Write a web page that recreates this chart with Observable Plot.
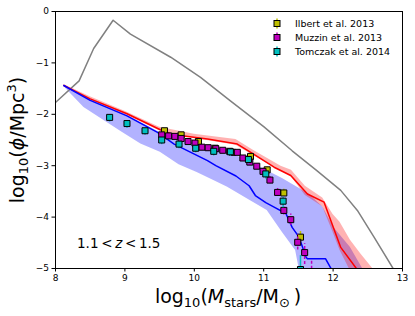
<!DOCTYPE html>
<html><head><meta charset="utf-8">
<script src="https://cdn.jsdelivr.net/npm/d3@7"></script>
<script src="https://cdn.jsdelivr.net/npm/@observablehq/plot@0.6"></script>
<style>
body{margin:0;background:#fff}
svg{font-family:"DejaVu Sans",sans-serif}
</style>
</head><body><div id="chart"></div>
<script>
// ---- data ----
const xTicks = [8, 9, 10, 11, 12, 13];
const yTicks = [-5, -4, -3, -2, -1, 0];

const grayX = [8.0, 8.34, 8.55, 8.83, 9.08, 9.66, 10.09, 10.52, 11.0, 11.41, 11.77, 12.11, 12.35, 12.59, 12.86, 12.9];
const grayY = [-1.77, -1.35, -0.72, -0.17, -0.44, -0.89, -1.28, -1.74, -2.24, -2.71, -3.10, -3.48, -3.87, -4.39, -4.99, -5.1];

const redX = [8.12, 8.5, 9.03, 9.51, 9.71, 10.19, 10.62, 10.86, 11.15, 11.39, 11.63, 11.87, 12.11, 12.33, 12.4];
const redY = [-1.44, -1.70, -1.99, -2.30, -2.40, -2.48, -2.58, -2.78, -3.03, -3.19, -3.55, -3.71, -4.59, -4.99, -5.15];

const redBandX  = [8.12, 8.5, 9.0, 9.5, 10.0, 10.6, 10.85, 11.25, 11.4, 11.6, 11.85, 12.0, 12.1, 12.25, 12.4, 12.57, 12.65];
const redBandLo = [-1.45, -1.71, -2.00, -2.32, -2.47, -2.60, -2.80, -3.11, -3.22, -3.58, -3.80, -4.30, -4.65, -5.05, -5.3, -5.5, -5.6];
const redBandHi = [-1.42, -1.66, -1.94, -2.25, -2.39, -2.49, -2.70, -3.01, -3.09, -3.40, -3.63, -3.95, -4.10, -4.45, -4.72, -5.0, -5.15];

const blueX = [8.12, 8.5, 9.03, 9.47, 9.71, 10.19, 10.31, 10.6, 10.79, 10.88, 11.03, 11.17, 11.32, 11.41, 11.51, 11.61, 11.63, 11.89, 11.97, 12.0];
const blueY = [-1.44, -1.73, -2.03, -2.35, -2.58, -2.90, -3.0, -3.2, -3.39, -3.58, -3.72, -3.82, -3.93, -4.2, -4.39, -4.78, -4.81, -4.81, -5.0, -5.1];

const blueBandX  = [8.12, 8.41, 8.96, 9.23, 9.51, 9.78, 10.04, 10.28, 10.48, 10.81, 11.05, 11.27, 11.46, 11.51, 11.65, 11.85, 12.01, 12.25, 12.42, 12.5];
const blueBandLo = [-1.46, -1.87, -2.35, -2.58, -2.74, -2.98, -3.13, -3.29, -3.42, -3.68, -3.87, -4.30, -4.65, -5.0, -5.5, -5.5, -5.5, -5.5, -5.5, -5.5];
const blueBandHi = [-1.43, -1.66, -1.97, -2.16, -2.36, -2.50, -2.58, -2.66, -2.74, -2.92, -3.10, -3.25, -3.40, -3.44, -3.55, -3.80, -4.20, -4.59, -4.99, -5.2];

const ilbertX  = [9.57, 9.81, 10.06, 10.30, 10.55, 10.81, 11.05, 11.29, 11.53];
const ilbertY  = [-2.32, -2.40, -2.53, -2.66, -2.74, -2.82, -3.08, -3.53, -4.39];
const ilbertLo = [-2.36, -2.44, -2.57, -2.70, -2.78, -2.86, -3.13, -3.60, -4.50];
const ilbertHi = [-2.28, -2.36, -2.49, -2.62, -2.70, -2.78, -3.03, -3.46, -4.28];

const muzzinX  = [9.53, 9.63, 9.72, 9.81, 9.91, 10.01, 10.11, 10.20, 10.31, 10.41, 10.51, 10.62, 10.70, 10.80, 10.90, 10.99, 11.09, 11.20, 11.29, 11.39, 11.49, 11.59, 11.69];
const muzzinY  = [-2.40, -2.42, -2.43, -2.47, -2.53, -2.56, -2.64, -2.65, -2.67, -2.70, -2.72, -2.74, -2.85, -2.93, -3.01, -3.11, -3.28, -3.52, -3.87, -4.05, -4.49, -4.69, -5.3];
const muzzinLo = [-2.44, -2.46, -2.47, -2.51, -2.57, -2.60, -2.68, -2.69, -2.71, -2.74, -2.76, -2.78, -2.90, -2.98, -3.06, -3.17, -3.35, -3.60, -3.96, -4.16, -4.64, -4.92, -5.6];
const muzzinHi = [-2.36, -2.38, -2.39, -2.43, -2.49, -2.52, -2.60, -2.61, -2.63, -2.66, -2.68, -2.70, -2.80, -2.88, -2.96, -3.05, -3.21, -3.44, -3.78, -3.94, -4.34, -4.52, -4.85];

const tomczakX  = [8.78, 9.03, 9.29, 9.53, 9.78, 10.02, 10.28, 10.52, 10.78, 11.03, 11.28, 11.53];
const tomczakY  = [-2.06, -2.18, -2.32, -2.50, -2.58, -2.66, -2.72, -2.73, -2.88, -3.16, -3.69, -5.02];
const tomczakLo = [-2.15, -2.27, -2.41, -2.59, -2.67, -2.75, -2.81, -2.82, -2.97, -3.26, -3.82, -5.4];
const tomczakHi = [-2.02, -2.14, -2.28, -2.46, -2.54, -2.62, -2.68, -2.69, -2.84, -3.11, -3.62, -4.75];

const seriesNames = ["Ilbert et al. 2013", "Muzzin et al. 2013", "Tomczak et al. 2014"];
const seriesColors = ["#bfbf00", "#bf00bf", "#00bfbf"];

// ---- tables ----
const pts = (xs, ys) => xs.map((x, i) => ({x, y: ys[i]}));
const band = (xs, lo, hi) => xs.map((x, i) => ({x, lo: lo[i], hi: hi[i]}));
const obs = (xs, ys, lo, hi) => xs.map((x, i) => ({x, y: ys[i], lo: lo[i], hi: hi[i]}));

const gray = pts(grayX, grayY);
const red = pts(redX, redY);
const blue = pts(blueX, blueY);
const redBand = band(redBandX, redBandLo, redBandHi);
const blueBand = band(blueBandX, blueBandLo, blueBandHi);
const ilbert = obs(ilbertX, ilbertY, ilbertLo, ilbertHi);
const muzzin = obs(muzzinX, muzzinY, muzzinLo, muzzinHi);
const tomczak = obs(tomczakX, tomczakY, tomczakLo, tomczakHi);

const fmt = d3.format("d");

const plot = Plot.plot({
  width: 415, height: 316,
  marginLeft: 55, marginRight: 13, marginTop: 11, marginBottom: 48,
  style: {fontFamily: "DejaVu Sans", fontSize: "9px", background: "#fff", color: "#000"},
  x: {domain: [8, 13]},
  y: {domain: [-5, 0]},
  marks: [
    Plot.areaY(blueBand, {x: "x", y1: "lo", y2: "hi", fill: "#0000ff", fillOpacity: 0.3, clip: true}),
    Plot.areaY(redBand, {x: "x", y1: "lo", y2: "hi", fill: "#ff0000", fillOpacity: 0.3, clip: true}),
    Plot.line(gray, {x: "x", y: "y", stroke: "#808080", strokeWidth: 1.5, clip: true}),
    Plot.line(red, {x: "x", y: "y", stroke: "#ff0000", strokeWidth: 1.5, clip: true}),
    Plot.line(blue, {x: "x", y: "y", stroke: "#0000ff", strokeWidth: 1.5, clip: true}),
    Plot.ruleX(ilbert, {x: "x", y1: "lo", y2: "hi", stroke: seriesColors[0], strokeWidth: 1.5, clip: true}),
    Plot.dot(ilbert, {x: "x", y: "y", symbol: "square", r: 3.4, fill: seriesColors[0], stroke: "#000", strokeWidth: 1, clip: true}),
    Plot.ruleX(muzzin, {x: "x", y1: "lo", y2: "hi", stroke: seriesColors[1], strokeWidth: 1.5, strokeDasharray: "3,2", clip: true}),
    Plot.dot(muzzin, {x: "x", y: "y", symbol: "square", r: 3.4, fill: seriesColors[1], stroke: "#000", strokeWidth: 1, clip: true}),
    Plot.ruleX(tomczak, {x: "x", y1: "lo", y2: "hi", stroke: seriesColors[2], strokeWidth: 1.5, clip: true}),
    Plot.dot(tomczak, {x: "x", y: "y", symbol: "square", r: 3.4, fill: seriesColors[2], stroke: "#000", strokeWidth: 1, clip: true}),
    Plot.axisX({ticks: xTicks, tickSize: 3.5, tickPadding: 3, fontSize: 9, label: null, tickFormat: fmt}),
    Plot.axisY({ticks: yTicks, tickSize: 3.5, tickPadding: 3, fontSize: 9, label: null, tickFormat: fmt}),
    Plot.frame({stroke: "#000", strokeWidth: 1})
  ]
});

document.getElementById("chart").appendChild(plot);

// ---- labels, annotation and legend (layout) ----
const svg = d3.select(plot);
const ns = "DejaVu Sans";

// x-axis label
const xl = svg.append("text").attr("x", 228).attr("y", 303).attr("text-anchor", "middle")
  .attr("font-size", 19).attr("font-family", ns).attr("fill", "#000");
xl.append("tspan").text("log");
xl.append("tspan").attr("font-size", 13).attr("dy", 4).text("10");
xl.append("tspan").attr("dy", -4).text("(");
xl.append("tspan").attr("font-style", "italic").text("M");
xl.append("tspan").attr("font-size", 13).attr("dy", 4).text("stars");
xl.append("tspan").attr("dy", -4).text("/M");
xl.append("tspan").attr("font-size", 13).attr("dy", 4).text("\u2299");
xl.append("tspan").attr("dy", -4).text("\u2009)");

// y-axis label
const yl = svg.append("text").attr("transform", "translate(24,140) rotate(-90)").attr("text-anchor", "middle")
  .attr("font-size", 19).attr("font-family", ns).attr("fill", "#000");
yl.append("tspan").text("log");
yl.append("tspan").attr("font-size", 13).attr("dy", 4).text("10");
yl.append("tspan").attr("dy", -4).text("(");
yl.append("tspan").attr("font-style", "italic").text("\u03D5");
yl.append("tspan").text("/Mpc");
yl.append("tspan").attr("font-size", 13).attr("dy", -8).text("3");
yl.append("tspan").attr("dy", 8).text(")");

// redshift annotation
const an = svg.append("text").attr("x", 77).attr("y", 248).attr("font-size", 13.5)
  .attr("text-anchor", "start").attr("font-family", ns).attr("fill", "#000");
an.append("tspan").text("1.1\u2009<\u2009");
an.append("tspan").attr("font-style", "italic").text("z");
an.append("tspan").text("\u2009<\u20091.5");

// legend
const lg = svg.append("g").attr("text-anchor", "start");
seriesNames.forEach((name, i) => {
  const cy = 23.5 + i * 14;
  lg.append("line").attr("x1", 277).attr("x2", 277).attr("y1", cy - 5).attr("y2", cy + 5)
    .attr("stroke", seriesColors[i]).attr("stroke-width", 1.5)
    .attr("stroke-dasharray", i === 1 ? "3,2" : null);
  lg.append("rect").attr("x", 274).attr("y", cy - 3).attr("width", 6).attr("height", 6)
    .attr("fill", seriesColors[i]).attr("stroke", "#000").attr("stroke-width", 1);
  lg.append("text").attr("x", 295).attr("y", cy + 3.5).attr("font-size", 9.5)
    .attr("text-anchor", "start").attr("font-family", ns).attr("fill", "#000").text(name);
});
</script>
</body></html>
